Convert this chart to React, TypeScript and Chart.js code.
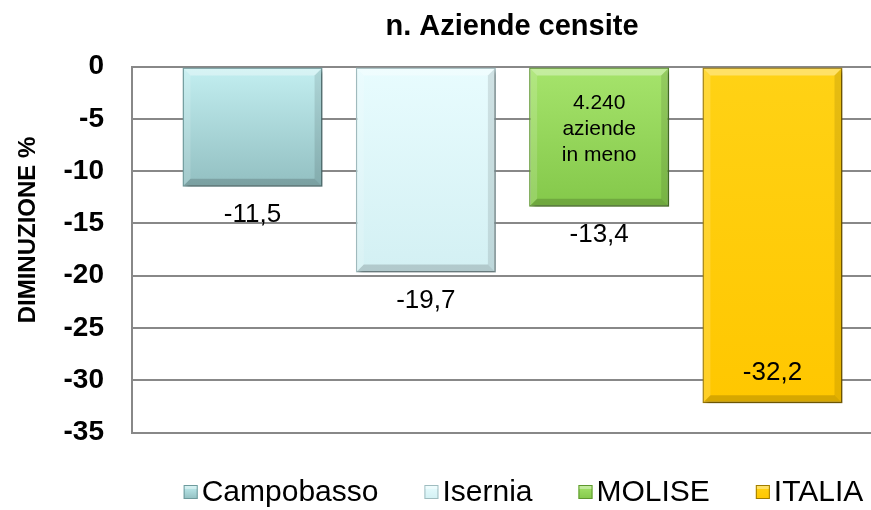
import React, { useEffect, useRef } from 'react';
import { Chart, registerables } from 'chart.js';

Chart.register(...registerables);

const chartTitle = 'n. Aziende censite';
const yAxisTitle = 'DIMINUZIONE %';
const categories = [''];
const seriesLabels = ['Campobasso', 'Isernia', 'MOLISE', 'ITALIA'];
const seriesValues = [-11.5, -19.7, -13.4, -32.2];
const yTicks = [0, -5, -10, -15, -20, -25, -30, -35];
const moliseNote = ['4.240', 'aziende', 'in meno'];

const FONT = '"Liberation Sans", Arial, sans-serif';
const CANVAS_W = 1025;
const CANVAS_H = 510;

const palette = [
  { top: '#c3eff1', bottom: '#92bfc1', border: '#6e9a9c' },
  { top: '#e8fcfe', bottom: '#d3f0f3', border: '#9fbcbf' },
  { top: '#a6e46c', bottom: '#84c84a', border: '#5e972f' },
  { top: '#ffd215', bottom: '#ffc700', border: '#a07c00' },
];

// label placement (style): offset from bar end, positive = below
const labelOffsets = [28, 28, 28, -30];

function fmt(v: number) {
  return String(v).replace('.', ',');
}

const shadowPlugin = {
  id: 'barShadow',
  beforeDatasetDraw(chart: any) {
    const ctx = chart.ctx;
    ctx.save();
    ctx.shadowColor = 'rgba(0,0,0,0.32)';
    ctx.shadowBlur = 4;
    ctx.shadowOffsetX = 3;
    ctx.shadowOffsetY = 3;
  },
  afterDatasetDraw(chart: any) {
    chart.ctx.restore();
  },
};

const titlesPlugin = {
  id: 'titles',
  afterDraw(chart: any) {
    const ctx = chart.ctx;
    ctx.save();
    ctx.fillStyle = '#000';
    ctx.textAlign = 'center';
    ctx.textBaseline = 'middle';
    ctx.font = `bold 29px ${FONT}`;
    ctx.fillText(chartTitle, 512, 27);
    ctx.translate(28, 230);
    ctx.rotate(-Math.PI / 2);
    ctx.font = `bold 24px ${FONT}`;
    ctx.fillText(yAxisTitle, 0, 0);
    ctx.restore();
  },
};

const bevelPlugin = {
  id: 'bevelAndLabels',
  afterDatasetsDraw(chart: any) {
    const ctx = chart.ctx;
    chart.data.datasets.forEach((ds: any, i: number) => {
      const meta = chart.getDatasetMeta(i);
      meta.data.forEach((bar: any, j: number) => {
        const p = bar.getProps(['x', 'y', 'base', 'width'], true);
        const l = p.x - p.width / 2 + 1;
        const r = p.x + p.width / 2 - 1;
        const t = Math.min(p.y, p.base) + 1;
        const b = Math.max(p.y, p.base) - 1;
        const e = 7;
        ctx.save();
        ctx.fillStyle = 'rgba(255,255,255,0.35)';
        ctx.beginPath();
        ctx.moveTo(l, t); ctx.lineTo(r, t); ctx.lineTo(r - e, t + e); ctx.lineTo(l + e, t + e); ctx.closePath(); ctx.fill();
        ctx.fillStyle = 'rgba(255,255,255,0.15)';
        ctx.beginPath();
        ctx.moveTo(l, t); ctx.lineTo(l + e, t + e); ctx.lineTo(l + e, b - e); ctx.lineTo(l, b); ctx.closePath(); ctx.fill();
        ctx.fillStyle = 'rgba(0,0,0,0.10)';
        ctx.beginPath();
        ctx.moveTo(r, t); ctx.lineTo(r - e, t + e); ctx.lineTo(r - e, b - e); ctx.lineTo(r, b); ctx.closePath(); ctx.fill();
        ctx.fillStyle = 'rgba(0,0,0,0.16)';
        ctx.beginPath();
        ctx.moveTo(l, b); ctx.lineTo(r, b); ctx.lineTo(r - e, b - e); ctx.lineTo(l + e, b - e); ctx.closePath(); ctx.fill();
        ctx.restore();

        const v = ds.data[j];
        ctx.save();
        ctx.fillStyle = '#000';
        ctx.font = `26px ${FONT}`;
        ctx.textAlign = 'center';
        ctx.textBaseline = 'middle';
        ctx.fillText(fmt(v), p.x, p.y + labelOffsets[i]);
        ctx.restore();

        if (i === 2) {
          ctx.save();
          ctx.fillStyle = '#000';
          ctx.font = `21px ${FONT}`;
          ctx.textAlign = 'center';
          ctx.textBaseline = 'middle';
          moliseNote.forEach((line, k) => {
            ctx.fillText(line, p.x, p.base + 35.5 + k * 26);
          });
          ctx.restore();
        }
      });
    });
  },
};

const legendPlugin = {
  id: 'customLegend',
  afterDraw(chart: any) {
    const ctx = chart.ctx;
    const size = 14;
    const gapIcon = 4;
    const gapItem = 46;
    ctx.save();
    ctx.font = `30px ${FONT}`;
    const items = chart.data.datasets.map((ds: any, i: number) => ({
      label: ds.label,
      w: size + gapIcon + ctx.measureText(ds.label).width,
      col: palette[i],
    }));
    const total = items.reduce((s: number, it: any) => s + it.w, 0) + gapItem * (items.length - 1);
    let x = 523.5 - total / 2;
    const cy = 492;
    items.forEach((it: any) => {
      const g = ctx.createLinearGradient(0, cy - size / 2, 0, cy + size / 2);
      g.addColorStop(0, it.col.top);
      g.addColorStop(1, it.col.bottom);
      ctx.fillStyle = g;
      ctx.fillRect(x, cy - size / 2, size, size);
      ctx.strokeStyle = it.col.border;
      ctx.lineWidth = 1;
      ctx.strokeRect(x + 0.5, cy - size / 2 + 0.5, size - 1, size - 1);
      ctx.fillStyle = 'rgba(255,255,255,0.35)';
      ctx.fillRect(x + 1, cy - size / 2 + 1, size - 2, 3);
      ctx.fillStyle = '#000';
      ctx.textAlign = 'left';
      ctx.textBaseline = 'middle';
      ctx.fillText(it.label, x + size + gapIcon, cy + 1);
      x += it.w + gapItem;
    });
    ctx.restore();
  },
};

export default function App() {
  const ref = useRef<HTMLCanvasElement | null>(null);

  useEffect(() => {
    if (!ref.current) return;
    const datasets = seriesLabels.map((label, i) => ({
      label,
      data: [seriesValues[i]],
      backgroundColor: (c: any) => {
        const chart = c.chart;
        const s = chart.scales && chart.scales.y;
        if (!s || typeof c.raw !== 'number') return palette[i].top;
        const y0 = s.getPixelForValue(0);
        const y1 = s.getPixelForValue(c.raw);
        if (!isFinite(y0) || !isFinite(y1) || y0 === y1) return palette[i].top;
        const g = chart.ctx.createLinearGradient(0, y0, 0, y1);
        g.addColorStop(0, palette[i].top);
        g.addColorStop(1, palette[i].bottom);
        return g;
      },
      borderColor: palette[i].border,
      borderWidth: 1.5,
      borderSkipped: false,
      categoryPercentage: 0.911,
      barPercentage: 0.808,
    }));

    const chart = new Chart(ref.current, {
      type: 'bar',
      data: { labels: categories, datasets },
      plugins: [shadowPlugin, bevelPlugin, legendPlugin, titlesPlugin],
      options: {
        animation: false,
        responsive: false,
        maintainAspectRatio: false,
        layout: { padding: { left: 0, right: CANVAS_W - 893, top: 66.5, bottom: 77.5 } },
        plugins: {
          legend: { display: false },
          tooltip: { enabled: false },
          title: { display: false },
        },
        scales: {
          x: {
            type: 'category',
            display: false,
            offset: true,
            grid: { display: false },
          },
          y: {
            min: -35,
            max: 0,
            afterBuildTicks: (s: any) => {
              s.ticks = yTicks.map((v) => ({ value: v }));
            },
            afterFit: (s: any) => {
              s.width = 132;
            },
            ticks: {
              color: '#000',
              font: { family: FONT, size: 28, weight: 'bold' },
              padding: 28,
              callback: (v: any) => String(v),
            },
            grid: { color: '#888888', lineWidth: 2, drawTicks: false },
            border: { display: true, color: '#888888', width: 2 },
            title: { display: false },
          },
        },
      } as any,
    });
    return () => chart.destroy();
  }, []);

  return (
    <div style={{ position: 'absolute', left: 0, top: 0, width: 871, height: 510, overflow: 'hidden', background: '#fff' }}>
      <canvas ref={ref} width={CANVAS_W} height={CANVAS_H} style={{ display: 'block', width: CANVAS_W, height: CANVAS_H }} />
    </div>
  );
}
